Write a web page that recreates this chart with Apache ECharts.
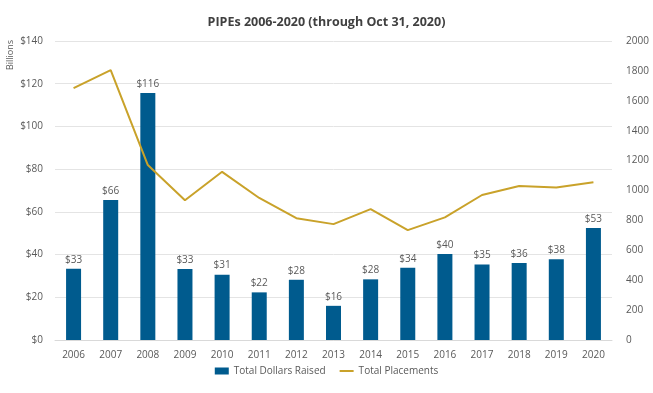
<!DOCTYPE html>
<html><head><meta charset="utf-8">
<script src="https://cdn.jsdelivr.net/npm/echarts@6/dist/echarts.min.js"></script>
<style>html,body{margin:0;padding:0;background:#fff}#c{width:653px;height:393px}</style>
</head><body><div id="c"></div>
<script>
var years = ['2006','2007','2008','2009','2010','2011','2012','2013','2014','2015','2016','2017','2018','2019','2020'];
var dollarsRaised = [33.4, 65.6, 115.6, 33.2, 30.6, 22.3, 28.2, 16.0, 28.4, 33.8, 40.3, 35.4, 36.0, 37.8, 52.5];
var placements = [1685, 1805, 1170, 935, 1125, 950, 815, 775, 875, 735, 820, 970, 1030, 1020, 1055];
var leftTicks = {min: 0, max: 140, interval: 20};
var rightTicks = {min: 0, max: 2000, interval: 200};

var chart = echarts.init(document.getElementById('c'), null, {renderer: 'canvas'});
var font = '"Open Sans", sans-serif';
chart.setOption({
  animation: false,
  textStyle: {fontFamily: font},
  title: {text: 'PIPEs 2006-2020 (through Oct 31, 2020)', left: 'center', top: 11,
    textStyle: {fontSize: 12.5, fontWeight: 'bold', color: '#404040', fontFamily: font}},
  graphic: [{type: 'text', left: 6, top: 40, rotation: Math.PI / 2,
    style: {text: 'Billions', fontSize: 9, fill: '#595959', fontFamily: font}}],
  grid: {left: 55, right: 41, top: 41, bottom: 53},
  legend: {bottom: 12, left: 'center', itemGap: 14, itemWidth: 14, itemHeight: 7,
    textStyle: {fontSize: 10, color: '#595959', fontFamily: font},
    data: [{name: 'Total Dollars Raised', icon: 'rect'},
           {name: 'Total Placements', icon: 'path://M0,0 L14,0 L14,2 L0,2 Z', itemStyle: {color: '#c9a22a'}}]},
  xAxis: {type: 'category', data: years,
    axisLine: {lineStyle: {color: '#d9d9d9'}}, axisTick: {show: false},
    axisLabel: {color: '#595959', fontSize: 10, margin: 10}},
  yAxis: [
    {type: 'value', min: leftTicks.min, max: leftTicks.max, interval: leftTicks.interval,
      axisLabel: {formatter: function(v){return '$' + v;}, color: '#595959', fontSize: 10, margin: 12},
      splitLine: {lineStyle: {color: '#e4e4e4'}}, axisLine: {show: false}, axisTick: {show: false}},
    {type: 'value', min: rightTicks.min, max: rightTicks.max, interval: rightTicks.interval,
      axisLabel: {color: '#595959', fontSize: 10, margin: 14, formatter: function(v){return String(v);}},
      splitLine: {show: false}, axisLine: {show: false}, axisTick: {show: false}}
  ],
  series: [
    {name: 'Total Dollars Raised', type: 'bar', data: dollarsRaised, barWidth: 15,
      itemStyle: {color: '#005b8e'},
      label: {show: true, position: 'top', distance: 4, color: '#595959', fontSize: 10,
        formatter: function(p){return '$' + Math.round(p.value);}}},
    {name: 'Total Placements', type: 'line', yAxisIndex: 1, data: placements,
      symbol: 'none', lineStyle: {color: '#c9a22a', width: 2}, itemStyle: {color: '#c9a22a'}}
  ]
});
</script></body></html>
